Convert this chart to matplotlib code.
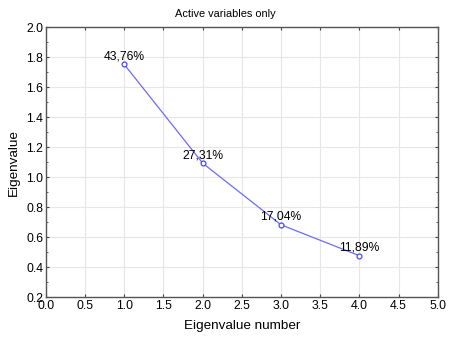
import matplotlib
matplotlib.use("Agg")
import matplotlib.pyplot as plt
from matplotlib.ticker import MultipleLocator

plt.rcParams["font.family"] = ["Liberation Sans", "DejaVu Sans"]

# data
eig_number = [1, 2, 3, 4]
eigenvalues = [1.7504, 1.0924, 0.6816, 0.4756]
pct_labels = ["43,76%", "27,31%", "17,04%", "11,89%"]

fig = plt.figure(figsize=(4.5, 3.38), dpi=100)
ax = fig.add_axes([0.102, 0.121, 0.871, 0.799])

ax.plot(eig_number, eigenvalues, color="#6b6bff", lw=0.9,
        marker="o", ms=3.5, mfc="white", mec="#4a4aff", mew=0.9, zorder=3)

for x, y, lab in zip(eig_number, eigenvalues, pct_labels):
    ax.annotate(lab, (x, y), xytext=(0, 1.5), textcoords="offset points",
                ha="center", va="bottom", fontsize=8.7, color="black", zorder=4)

ax.set_xlim(0, 5)
ax.set_ylim(0.2, 2.0)
ax.xaxis.set_major_locator(MultipleLocator(0.5))
ax.yaxis.set_major_locator(MultipleLocator(0.2))
ax.yaxis.set_minor_locator(MultipleLocator(0.1))
ax.grid(True, which="major", color="#e6e6e6", lw=0.8)
ax.set_axisbelow(True)

ax.tick_params(which="both", direction="in", top=True, right=True,
               color="#444444", labelsize=8.8, pad=2)
ax.tick_params(which="major", length=2.5, width=0.8)
ax.tick_params(which="minor", length=1.5, width=0.6)
for s in ax.spines.values():
    s.set_color("#555555")
    s.set_linewidth(1.0)

ax.set_xlabel("Eigenvalue number", fontsize=9.7, labelpad=5.5)
ax.set_ylabel("Eigenvalue", fontsize=9.7, labelpad=4.5)
# title is centred on the figure, not the axes
fig.text(0.5, 0.958, "Active variables only", fontsize=7.9,
         ha="center", va="center")

fig.savefig("out.png", dpi=100)
